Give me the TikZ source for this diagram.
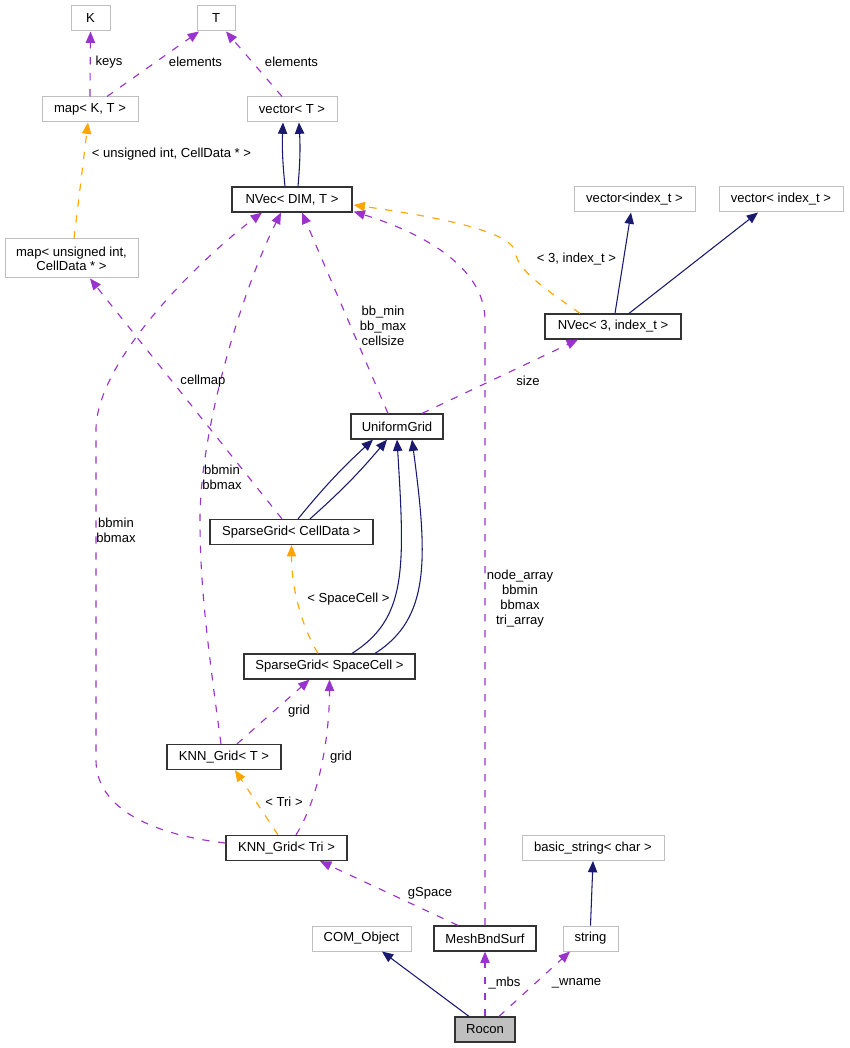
\documentclass[tikz,border=0pt]{standalone}
\usepackage{fontspec}
\setmainfont{Liberation Sans}
\usetikzlibrary{arrows.meta,calc}
\definecolor{dxnavy}{HTML}{191970}
\definecolor{dxpurple}{HTML}{9A32CD}
\definecolor{dxorange}{HTML}{FFA500}
\definecolor{dxgray}{HTML}{BFBFBF}

\begin{document}
\begin{tikzpicture}[x=0.75pt,y=-0.75pt,
        cls/.style={draw=black!80,line width=0.9pt,fill=white,minimum height=18.75pt,inner sep=0pt,
          align=center,font=\fontsize{9.8}{10.5}\selectfont},
        ext/.style={cls,draw=dxgray,line width=0.75pt},
        lbl/.style={align=center,inner sep=0pt,font=\fontsize{9.8}{11.2}\selectfont},
        inh/.style={-{Triangle[length=8.5pt,width=7pt]},dxnavy,line width=0.8pt},
        usage/.style={-{Triangle[length=8.5pt,width=7pt]},dxpurple,line width=0.85pt,dash pattern=on 5.5pt off 6.5pt},
        tpl/.style={usage,dxorange}]
        \useasboundingbox (0,0) rectangle (849,1048);
        \node[ext,minimum width=29.25pt](K) at (90.5,18.5){K};
        \node[ext,minimum width=28.5pt](T) at (216,18.5){T};
        \node[ext,minimum width=72pt](mapKT) at (90,109.5){map< K, T >};
        \node[ext,minimum width=67.5pt](vecT) at (292,109.5){vector< T >};
        \node[cls,minimum width=90pt](nvec) at (292,199.5){NVec< DIM, T >};
        \node[ext,minimum width=99.75pt,minimum height=29.25pt](mapUI) at (71.5,258.5){map< unsigned int,\\CellData * >};
        \node[ext,minimum width=90.75pt](vecidxA) at (634.5,199.5){vector<index\_t >};
        \node[ext,minimum width=93pt](vecidxB) at (781,199.5){vector< index\_t >};
        \node[cls,minimum width=102pt](nvecidx) at (613,326.5){NVec< 3, index\_t >};
        \node[cls,minimum width=69pt](ugrid) at (397,426.5){UniformGrid};
        \node[cls,minimum width=122.25pt](sgcell) at (291.5,532){SparseGrid< CellData >};
        \node[cls,minimum width=128.25pt](sgspace) at (329.5,666.5){SparseGrid< SpaceCell >};
        \node[cls,minimum width=85.5pt](knnT) at (224,757){KNN\_Grid< T >};
        \node[cls,minimum width=90.75pt](knnTri) at (286.5,848){KNN\_Grid< Tri >};
        \node[ext,minimum width=106.5pt](bstr) at (593,848){basic\_string< char >};
        \node[ext,minimum width=74.25pt](com) at (361.5,938.5){COM\_Object};
        \node[cls,minimum width=76.5pt](mbs) at (485,938.5){MeshBndSurf};
        \node[ext,minimum width=41.25pt](str) at (590.5,938.5){string};
        \node[cls,fill=dxgray,minimum width=45pt](rocon) at (485,1029.5){Rocon};

        \draw[usage](mapKT.north)--(K.south);
        \draw[usage]($(mapKT.north)+(17,0)$)--($(T.south)+(-17,0)$);
        \draw[usage]($(vecT.north)+(-10,0)$)--($(T.south)+(10,0)$);
        \draw[inh]($(nvec.north)+(-7,0)$) to[bend left=4] ($(vecT.south)+(-9,0)$);
        \draw[inh]($(nvec.north)+(6,0)$) to[bend right=4] ($(vecT.south)+(7,0)$);
        \draw[tpl]($(mapUI.north)+(2.5,0)$)--($(mapKT.south)+(-2,0)$);
        \draw[tpl]($(nvecidx.north)+(-33,0)$) .. controls +(-35,-25) and +(3,20) .. ($(nvecidx.north)+(-98,-62)$)
          .. controls +(-5,-22) and +(70,10) .. ($(nvec.east)+(1,5.5)$);
        \draw[inh]($(nvecidx.north)+(2,0)$)--($(vecidxA.south)+(-3.5,0)$);
        \draw[inh]($(nvecidx.north)+(16,0)$)--($(vecidxB.south)+(-23,0)$);
        \draw[usage]($(ugrid.north)+(-9,0)$)--($(nvec.south)+(10,0)$);
        \draw[usage]($(ugrid.north)+(25,0)$)--($(nvecidx.south)+(-35,0)$);
        \draw[inh]($(sgcell.north)+(6.5,0)$) to[bend left=4] ($(ugrid.south)+(-24,0)$);
        \draw[inh]($(sgcell.north)+(18.5,0)$) to[bend right=4] ($(ugrid.south)+(-10,0)$);
        \draw[usage]($(sgcell.north)+(-9.5,0)$)--($(mapUI.south)+(18.5,0)$);
        \draw[tpl]($(sgspace.north)+(-11.5,0)$) .. controls +(-18,-30) and +(0,40) .. (sgcell.south);
        \draw[inh]($(sgspace.north)+(22.5,0)$) .. controls +(55,-35) and +(8,130) .. (ugrid.south);
        \draw[inh]($(sgspace.north)+(45.5,0)$) .. controls +(55,-35) and +(16,120) .. ($(ugrid.south)+(15,0)$);
        \draw[usage]($(knnT.north)+(-3,0)$) .. controls +(-15,-110) and +(0,60) .. (200,520)
          .. controls +(0,-90) and +(-40,80) .. ($(nvec.south)+(-11,0)$);
        \draw[usage]($(knnT.north)+(13,0)$)--($(sgspace.south)+(-20,0)$);
        \draw[tpl]($(knnTri.north)+(-8.5,0)$)--($(knnT.south)+(11,0)$);
        \draw[usage]($(knnTri.north)+(9.5,0)$) .. controls +(22,-35) and +(0,60) .. (sgspace.south);
        \draw[usage]($(knnTri.west)+(0,-5)$) .. controls +(-70,-8) and +(0,50) .. (96,760) -- (96,430)
          .. controls +(0,-70) and +(-60,45) .. ($(nvec.south)+(-30,0)$);
        \draw[usage]($(mbs.north)+(-27,0)$)--($(knnTri.south)+(33.5,0)$);
        \draw[usage](mbs.north)--++(0,-605) .. controls +(0,-55) and +(65,20) .. ($(nvec.south east)+(1,-1)$);
        \draw[inh](str.north)--(bstr.south);
        \draw[inh]($(rocon.north)+(-16,0)$)--($(com.south)+(20.5,0)$);
        \draw[usage](rocon.north)--(mbs.south);
        \draw[usage]($(rocon.north)+(14,0)$)--($(str.south)+(-20.5,0)$);

        \node[lbl](lkeys) at (109,62){keys};
        \node[lbl](lelemA) at (195.5,62){elements};
        \node[lbl](lelemB) at (291.5,62){elements};
        \node[lbl](lmapui) at (171.5,154){< unsigned int, CellData * >};
        \node[lbl](lidx) at (576.5,259){< 3, index\_t >};
        \node[lbl](lbb) at (383,326){bb\_min\\bb\_max\\cellsize};
        \node[lbl](lsize) at (528,381){size};
        \node[lbl](lcellmap) at (203,381){cellmap};
        \node[lbl](lbbA) at (222,477){bbmin\\bbmax};
        \node[lbl](lbbB) at (116,530){bbmin\\bbmax};
        \node[lbl](lspace) at (348.5,599){< SpaceCell >};
        \node[lbl](lgridA) at (299,711){grid};
        \node[lbl](lgridB) at (341,757){grid};
        \node[lbl](ltri) at (284,802){< Tri >};
        \node[lbl](lgspace) at (430,893){gSpace};
        \node[lbl](lnodes) at (520,599){node\_array\\bbmin\\bbmax\\tri\_array};
        \node[lbl](lmbs) at (504.5,983){\_mbs};
        \node[lbl](lwname) at (576.5,983){\_wname};
      \end{tikzpicture}
\end{document}
